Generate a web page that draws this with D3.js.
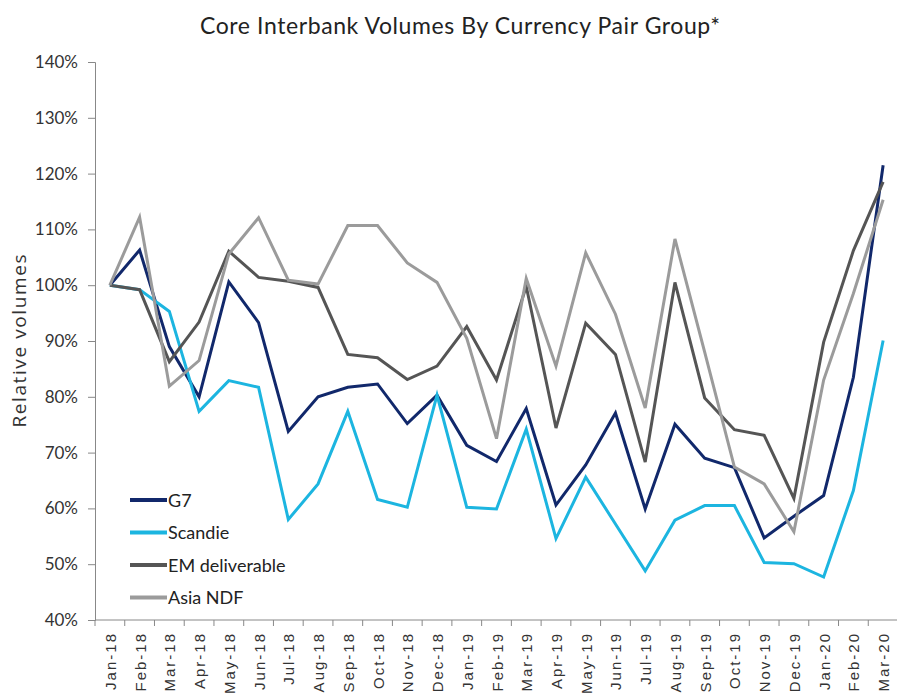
<!DOCTYPE html>
<html>
<head>
<meta charset="utf-8">
<script src="https://cdn.jsdelivr.net/npm/d3@7"></script>
<style>
  body { margin: 0; background: #fff; }
  svg { display: block; }
</style>
</head>
<body>
<div id="chart"></div>
<script>
// data (relative volumes, %)
const months = ['Jan-18','Feb-18','Mar-18','Apr-18','May-18','Jun-18','Jul-18','Aug-18','Sep-18','Oct-18','Nov-18','Dec-18',
  'Jan-19','Feb-19','Mar-19','Apr-19','May-19','Jun-19','Jul-19','Aug-19','Sep-19','Oct-19','Nov-19','Dec-19',
  'Jan-20','Feb-20','Mar-20'];
const g7 = [100, 106.3, 89, 80, 100.6, 93.3, 73.8, 80, 81.7, 82.3, 75.2, 80.3, 71.3, 68.4, 77.9, 60.6, 67.8, 77.1, 59.9, 75.1, 69, 67.3, 54.7, 58.6, 62.3, 83.5, 121.5];
const scandie = [100, 99.2, 95.3, 77.4, 82.9, 81.7, 58, 64.4, 77.4, 61.6, 60.2, 80.3, 60.2, 59.9, 74.2, 54.6, 65.6, 57.2, 48.8, 57.9, 60.5, 60.5, 50.3, 50.1, 47.7, 63.2, 90.1];
const emDeliverable = [100, 99.2, 86.3, 93.4, 106.1, 101.4, 100.7, 99.6, 87.6, 87, 83.1, 85.5, 92.6, 83, 99.8, 74.4, 93.2, 87.6, 68.3, 100.5, 79.8, 74.1, 73.1, 61.8, 89.8, 106.2, 118.5];
const asiaNdf = [100, 112.2, 81.9, 86.5, 105.6, 112.1, 100.9, 100.2, 110.7, 110.7, 104, 100.5, 90.5, 72.5, 101.2, 85.5, 105.8, 94.8, 78, 108.3, 88, 67.4, 64.4, 55.8, 83, 98.5, 115.3];
const yTicks = [40, 50, 60, 70, 80, 90, 100, 110, 120, 130, 140];

const series = [
  { name: 'G7', values: g7, color: '#11286b' },
  { name: 'Scandie', values: scandie, color: '#1cb5e0' },
  { name: 'EM deliverable', values: emDeliverable, color: '#555555' },
  { name: 'Asia NDF', values: asiaNdf, color: '#9b9b9b' }
];

const width = 897, height = 699;
const svg = d3.select('#chart').append('svg')
  .attr('width', width)
  .attr('height', height);

const x = d3.scaleBand().domain(months).range([95, 898]);
const y = d3.scaleLinear().domain([40, 140]).range([620, 62]);

// title
svg.append('text')
  .attr('x', 460)
  .attr('y', 34)
  .attr('text-anchor', 'middle')
  .style('font-family', 'Lato, sans-serif')
  .style('font-size', '23px')
  .attr('fill', '#222')
  .attr('textLength', 520)
  .text('Core Interbank Volumes By Currency Pair Group*');

// y axis
const yAxis = svg.append('g')
  .attr('transform', 'translate(95,0)')
  .call(d3.axisLeft(y).tickValues(yTicks).tickFormat(d => d + '%').tickSize(7).tickPadding(10));
yAxis.select('.domain').attr('stroke', '#888');
yAxis.selectAll('.tick line').attr('stroke', '#888');
yAxis.selectAll('.tick text')
  .style('font-family', 'Lato, sans-serif')
  .style('font-size', '17px')
  .attr('fill', '#333');

// x axis: ticks sit on category boundaries
const xAxis = svg.append('g')
  .attr('transform', 'translate(0,620)');
xAxis.append('line')
  .attr('x1', 95).attr('x2', 898)
  .attr('stroke', '#888');
xAxis.selectAll('.bound')
  .data(months)
  .enter()
  .append('line')
  .attr('class', 'bound')
  .attr('x1', d => x(d)).attr('x2', d => x(d))
  .attr('y1', 0).attr('y2', 6)
  .attr('stroke', '#888');
xAxis.selectAll('.lbl')
  .data(months)
  .enter()
  .append('text')
  .attr('class', 'lbl')
  .attr('transform', d => `translate(${x(d) + x.bandwidth() / 2 + 6},12) rotate(-90)`)
  .attr('text-anchor', 'end')
  .style('font-family', '"Liberation Sans", Arial, sans-serif')
  .style('font-size', '15px')
  .style('letter-spacing', '2px')
  .attr('fill', '#333')
  .text(d => d);

// y axis title
svg.append('text')
  .attr('transform', 'translate(26,341) rotate(-90)')
  .attr('text-anchor', 'middle')
  .style('font-family', '"Open Sans", sans-serif')
  .style('font-size', '19px')
  .attr('fill', '#333')
  .attr('textLength', 173)
  .text('Relative volumes');

// lines
const line = d3.line()
  .x((d, i) => x(months[i]) + x.bandwidth() / 2)
  .y(d => y(d));

svg.append('g')
  .selectAll('path')
  .data(series)
  .enter()
  .append('path')
  .attr('d', d => line(d.values))
  .attr('fill', 'none')
  .attr('stroke', d => d.color)
  .attr('stroke-width', 3)
  .attr('stroke-linejoin', 'miter');

// legend
const legend = svg.append('g')
  .selectAll('g')
  .data(series)
  .enter()
  .append('g')
  .attr('transform', (d, i) => `translate(130,${500 + i * 32.5})`);
legend.append('line')
  .attr('x1', 0).attr('x2', 37)
  .attr('stroke', d => d.color)
  .attr('stroke-width', 4);
legend.append('text')
  .attr('x', 38)
  .attr('y', 6.5)
  .style('font-family', 'Lato, sans-serif')
  .style('font-size', '18px')
  .attr('fill', '#222')
  .text(d => d.name);
</script>
</body>
</html>
